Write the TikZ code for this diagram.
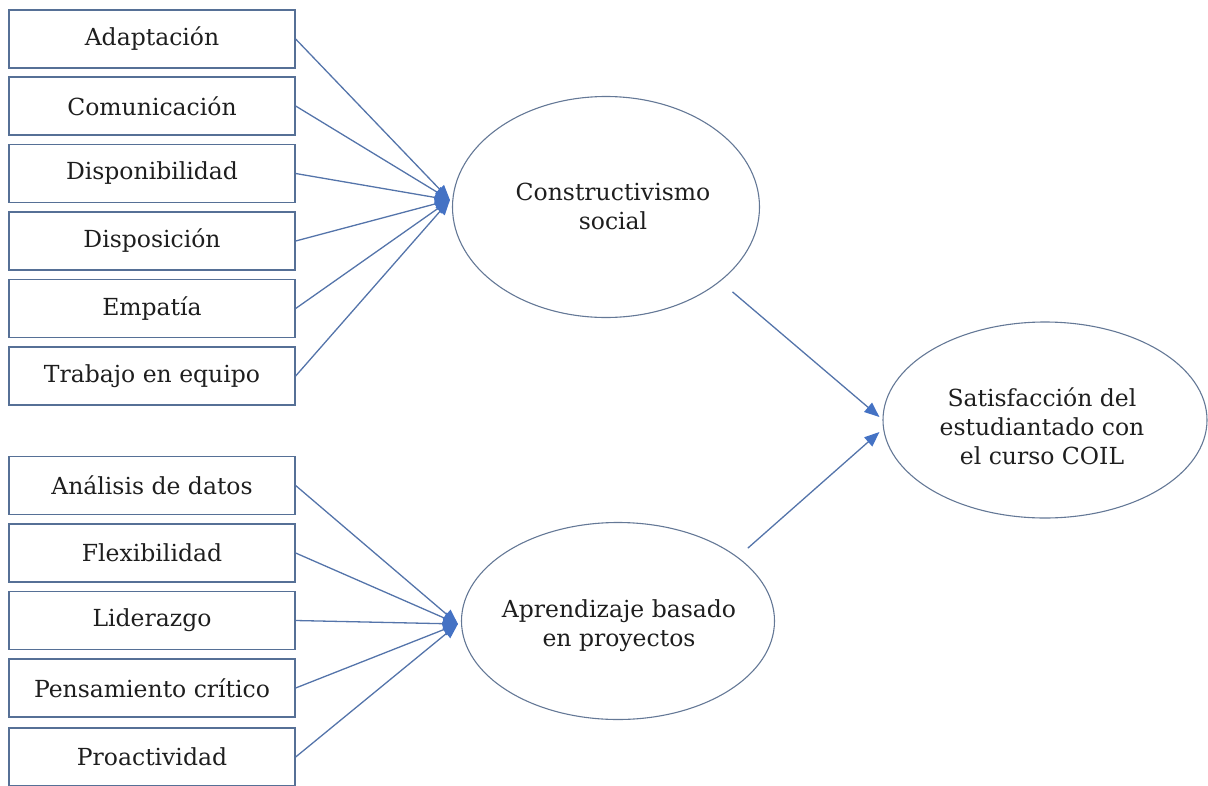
\documentclass[tikz,border=0pt]{standalone}
\usepackage{fontspec}
\setmainfont{DejaVu Serif}
\usetikzlibrary{shapes.geometric,arrows.meta}
\definecolor{boxline}{RGB}{86,112,150}
\definecolor{linkline}{RGB}{84,116,170}
\definecolor{headfill}{RGB}{68,114,196}
\definecolor{ellline}{RGB}{100,120,150}
\definecolor{txt}{RGB}{30,30,30}
\tikzset{
  itembox/.style={draw=boxline,line width=1.3pt,rectangle,minimum width=286pt,minimum height=58pt,inner sep=0pt,
    text=txt,font=\fontsize{23.5}{29}\selectfont},
  latent/.style={draw=ellline,line width=1.1pt,ellipse,inner sep=0pt},
  latenttext/.style={align=center,text=txt,font=\fontsize{23.5}{29}\selectfont,inner sep=0pt},
  link/.style={draw=linkline,line width=1.3pt,-{Triangle[length=15pt,width=12pt,fill=headfill,color=headfill]}},
}
\begin{document}
\begin{tikzpicture}[x=1pt,y=-1pt]
\useasboundingbox (0,0) rectangle (1208,785);
% indicator boxes, group 1
\node[itembox] (a1) at (152,39) {Adaptación};
\node[itembox] (a2) at (152,106) {Comunicación};
\node[itembox] (a3) at (152,173.5) {Disponibilidad};
\node[itembox] (a4) at (152,241) {Disposición};
\node[itembox] (a5) at (152,308.5) {Empatía};
\node[itembox] (a6) at (152,376) {Trabajo en equipo};
% indicator boxes, group 2
\node[itembox] (b1) at (152,485.5) {Análisis de datos};
\node[itembox] (b2) at (152,553) {Flexibilidad};
\node[itembox] (b3) at (152,620.5) {Liderazgo};
\node[itembox] (b4) at (152,688) {Pensamiento crítico};
\node[itembox] (b5) at (152,757) {Proactividad};
% latent constructs
\node[latent,minimum width=307pt,minimum height=221pt] (e1) at (606,207) {};
\node[latenttext] (e1t) at (613,206) {Constructivismo\\social};
\node[latent,minimum width=313pt,minimum height=197pt] (e2) at (618,621) {};
\node[latenttext] (e2t) at (619,626) {Aprendizaje basado\\en proyectos};
\node[latent,minimum width=324pt,minimum height=196pt] (e3) at (1045,420) {};
\node[latenttext] (e3t) at (1042,426) {Satisfacción del\\estudiantado con\\el curso COIL};
% arrow target points
\coordinate (t1) at ([shift={(-2,-7)}]e1.west);
\coordinate (t2) at ([shift={(-3,3)}]e2.west);
\coordinate (t3a) at ([shift={(-3,-3)}]e3.west);
\coordinate (t3b) at ([shift={(-3,12)}]e3.west);
\coordinate (s1) at ([shift={(14,9)}]e1.-34);
\coordinate (s2) at ([shift={(14,-6)}]e2.30);
% connectors
\foreach \n in {a1,a2,a3,a4,a5,a6}{\draw[link] (\n.east) -- (t1);}
\foreach \n in {b1,b2,b3,b4,b5}{\draw[link] (\n.east) -- (t2);}
\draw[link] (s1) -- (t3a);
\draw[link] (s2) -- (t3b);
\end{tikzpicture}
\end{document}
